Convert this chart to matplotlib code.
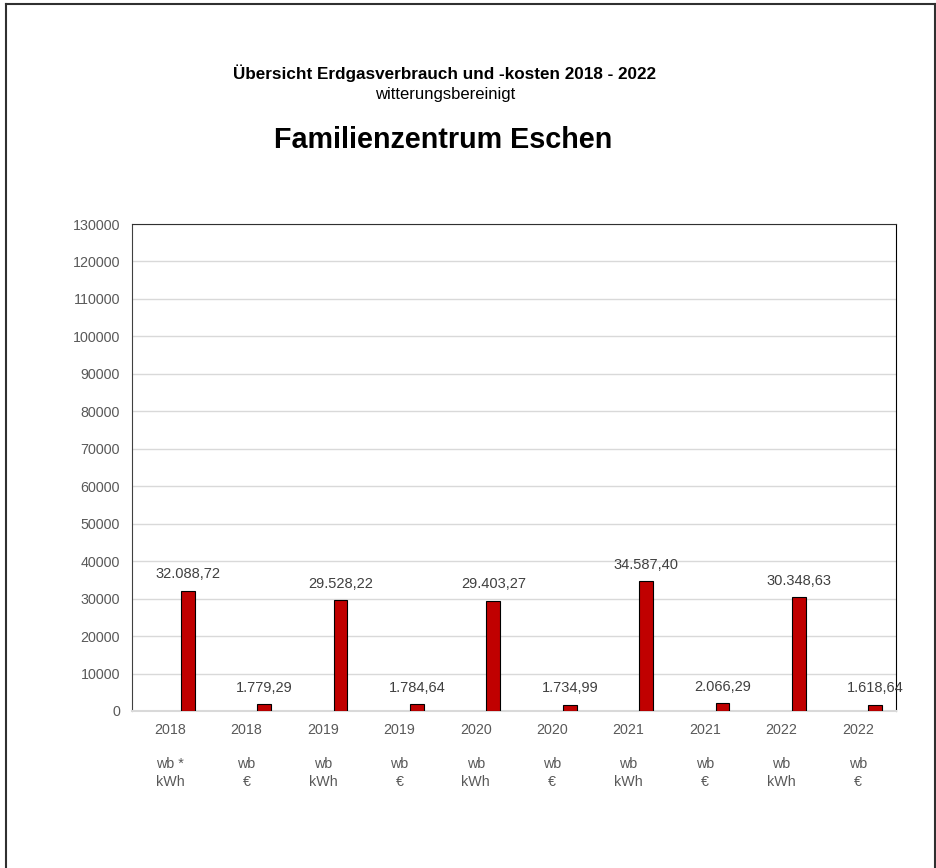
import matplotlib.pyplot as plt
import numpy as np

plt.rcParams['font.family'] = ['Liberation Sans', 'DejaVu Sans']

# Werte aus der Grafik
jahre = ['2018', '2018', '2019', '2019', '2020', '2020', '2021', '2021', '2022', '2022']
einheit = ['wb *\nkWh', 'wb\n€', 'wb\nkWh', 'wb\n€', 'wb\nkWh', 'wb\n€',
           'wb\nkWh', 'wb\n€', 'wb\nkWh', 'wb\n€']
werte = [32088.72, 1779.29, 29528.22, 1784.64, 29403.27, 1734.99,
         34587.40, 2066.29, 30348.63, 1618.64]

fig = plt.figure(figsize=(9.37, 8.68), dpi=100)

# Rahmen um das Diagramm (unten ausserhalb des Bildes)
fig.add_artist(plt.Line2D([6.5/937, 6.5/937], [0, 1-4/868], color='#303030', lw=1.5))
fig.add_artist(plt.Line2D([6.5/937, 935.5/937], [1-4/868, 1-4/868], color='#303030', lw=1.5))
fig.add_artist(plt.Line2D([935.5/937, 935.5/937], [0, 1-4/868], color='#303030', lw=1.5))

ax = fig.add_axes([132/937, (868-711)/868, (896-132)/937, (711-224)/868])

x = np.arange(len(werte))
ax.bar(x + 0.23, werte, width=0.18, color='#C00000', edgecolor='black', linewidth=0.8, zorder=3)

for xi, v in zip(x, werte):
    txt = f'{v:,.2f}'.replace(',', 'X').replace('.', ',').replace('X', '.')
    ax.annotate(txt, (xi + 0.23, v), xytext=(0, 7), textcoords='offset points',
                ha='center', va='bottom', fontsize=10.5, color='#404040', zorder=4,
                annotation_clip=False)

ax.set_xlim(-0.5, 9.5)
ax.set_ylim(0, 130000)
ax.set_yticks(np.arange(0, 130001, 10000))
ax.set_yticklabels([str(t) for t in range(0, 130001, 10000)])
ax.set_xticks(x)
ax.set_xticklabels([j + '\n\n' + e for j, e in zip(jahre, einheit)], linespacing=1.3)
ax.tick_params(axis='both', length=0, labelsize=10.3, labelcolor='#595959')
ax.tick_params(axis='x', pad=8.5)
ax.tick_params(axis='y', pad=8.6)

ax.grid(axis='y', color='#d9d9d9', lw=1, zorder=0)
ax.spines['left'].set_color('#404040')
ax.spines['top'].set_color('#303030')
ax.spines['right'].set_color('black')
ax.spines['bottom'].set_color('#d9d9d9')
ax.spines['bottom'].set_linewidth(1.5)

fig.text(445/937, 1-73/868, 'Übersicht Erdgasverbrauch und -kosten 2018 - 2022',
         ha='center', va='center', fontsize=12.3, fontweight='bold')
fig.text(445/937, 1-94/868, 'witterungsbereinigt', ha='center', va='center', fontsize=12)
fig.text(443/937, 1-140/868, 'Familienzentrum Eschen', ha='center', va='center',
         fontsize=20.7, fontweight='bold')

fig.savefig('out.png', dpi=100)
